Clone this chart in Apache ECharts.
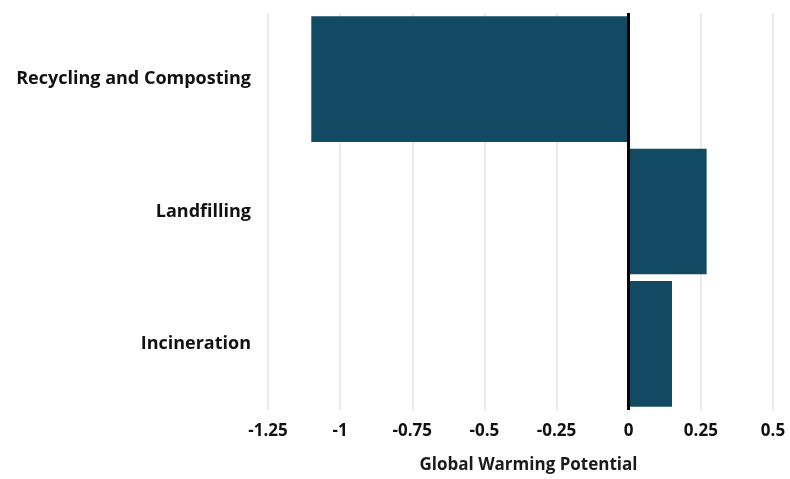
<!DOCTYPE html>
<html lang="en">
<head>
    <meta charset="UTF-8">
    <title>Global Warming Potential</title>
    <style>
        html, body { margin: 0; padding: 0; background: #fff; }
        #main { width: 790px; height: 479px; }
    </style>
</head>
<body>
<div id="main"></div>
<script src="https://cdn.jsdelivr.net/npm/echarts@6/dist/echarts.min.js"></script>
<script>
// categories, top to bottom
const categories = ['Recycling and Composting', 'Landfilling', 'Incineration'];
// global warming potential per category
const values = [-1.1, 0.27, 0.15];
// x axis ticks
const xTicks = [-1.25, -1, -0.75, -0.5, -0.25, 0, 0.25, 0.5];

const font = '"Open Sans", "Noto Sans", sans-serif';

const chart = echarts.init(document.getElementById('main'));

const option = {
    animation: false,
    grid: { left: 268, right: 17, top: 13, bottom: 66 },
    xAxis: {
        type: 'value',
        min: xTicks[0],
        max: xTicks[xTicks.length - 1],
        interval: 0.25,
        name: 'Global Warming Potential',
        nameLocation: 'middle',
        nameGap: 47,
        nameTextStyle: {
            fontFamily: font, fontWeight: 'bold', fontSize: 17, color: '#1a1a1a',
            padding: [0, 0, 0, 16]
        },
        axisLine: { show: false },
        axisTick: { show: false },
        axisLabel: {
            margin: 13,
            fontFamily: font, fontWeight: 'bold', fontSize: 17, color: '#111',
            formatter: v => String(v)
        },
        splitLine: { show: true, lineStyle: { color: '#e3e3e3', width: 1.5 } }
    },
    yAxis: {
        type: 'category',
        data: categories,
        inverse: true,
        axisLine: { show: false },
        axisTick: { show: false },
        axisLabel: {
            margin: 17,
            fontFamily: font, fontWeight: 'bold', fontSize: 18, color: '#111'
        }
    },
    series: [{
        type: 'bar',
        data: values,
        barCategoryGap: '5%',
        itemStyle: { color: '#134a63' },
        markLine: {
            silent: true,
            symbol: 'none',
            label: { show: false },
            lineStyle: { color: '#000', width: 3, type: 'solid' },
            data: [{ xAxis: 0 }]
        }
    }]
};

chart.setOption(option);
</script>
</body>
</html>
